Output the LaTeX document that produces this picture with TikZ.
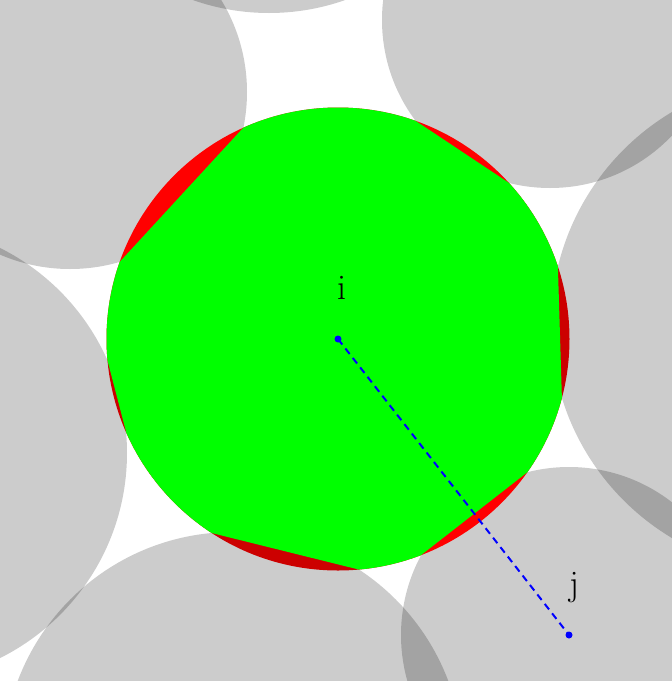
\documentclass[tikz,border=0pt]{standalone}
\usetikzlibrary{calc}
\begin{document}
\begin{tikzpicture}[x=1pt,y=-1pt,
  nb/.style={fill=black,fill opacity=0.2},
  centre/.style={fill=blue},
  link/.style={draw=blue,line width=2pt,dash pattern=on 7pt off 5pt},
  lbl/.style={inner sep=0pt,font=\fontsize{36}{42}\selectfont}]
\path[use as bounding box] (0,0) rectangle (672,681);
\clip (0,0) rectangle (672,681);
\coordinate (i) at (338,339);
\coordinate (j) at (569,635);
% neighbours drawn below the red disc
\fill[nb] (70,92) circle[radius=177pt];
\fill[nb] (269,-216) circle[radius=229pt];
\fill[nb] (550,20) circle[radius=168pt];
\fill[nb] (j) circle[radius=168pt];
% full disc of i
\fill[red] (i) circle[radius=231.5pt];
% neighbours drawn above the red disc
\fill[nb] (799,325) circle[radius=248pt];
\fill[nb] (233,762) circle[radius=230pt];
\fill[nb] (-102,453) circle[radius=229pt];
% chord end points
\coordinate (P1) at (119.8,261.8);
\coordinate (P2) at (243.2,127.8);
\coordinate (P3) at (415.7,120.9);
\coordinate (P4) at (508.9,182.9);
\coordinate (P5) at (557.9,266.7);
\coordinate (P6) at (561.9,397.9);
\coordinate (P7) at (527.4,472.2);
\coordinate (P8) at (421.2,555.0);
\coordinate (P9) at (359.0,569.6);
\coordinate (P10) at (211.6,533.0);
\coordinate (P11) at (126.1,432.0);
\coordinate (P12) at (107.5,360.5);
% green cell
\begin{scope}
\clip (i) circle[radius=231.5pt];
\fill[green] (P1) -- (P2) -- ($(i)!3!($(P2)!.5!(P3)$)$)
  -- (P3) -- (P4) -- ($(i)!3!($(P4)!.5!(P5)$)$)
  -- (P5) -- (P6) -- ($(i)!3!($(P6)!.5!(P7)$)$)
  -- (P7) -- (P8) -- ($(i)!3!($(P8)!.5!(P9)$)$)
  -- (P9) -- (P10) -- ($(i)!3!($(P10)!.5!(P11)$)$)
  -- (P11) -- (P12) -- ($(i)!3!($(P12)!.5!(P1)$)$) -- cycle;
\end{scope}
% link and centres
\draw[link] (i) -- (j);
\fill[centre] (i) circle[radius=3.5pt];
\fill[centre] (j) circle[radius=3.5pt];
\node[lbl] (li) at (342,288) {i};
\node[lbl] (lj) at (574,588) {j};
\end{tikzpicture}
\end{document}
